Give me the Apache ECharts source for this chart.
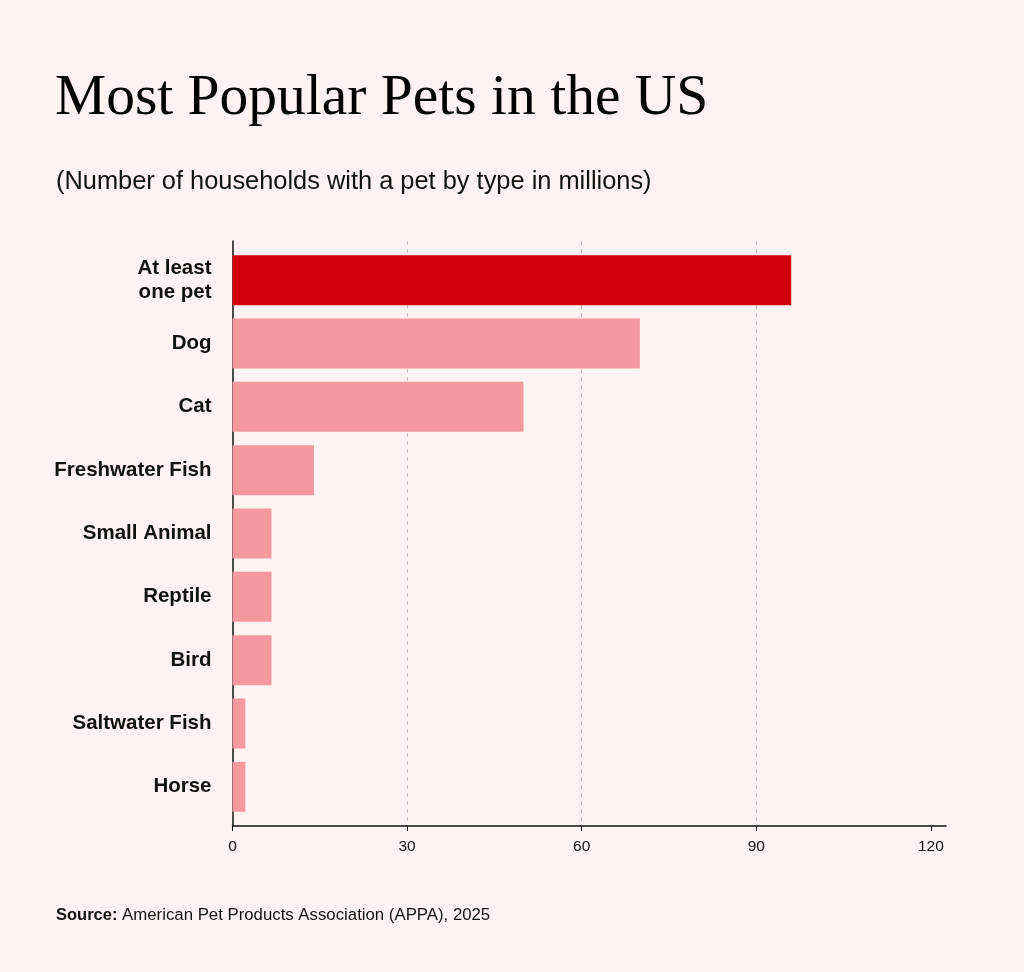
<!DOCTYPE html>
<html>
<head>
<meta charset="utf-8">
<script src="https://cdn.jsdelivr.net/npm/echarts@6/dist/echarts.min.js"></script>
<style>
  html, body { margin: 0; padding: 0; background: #fff2f2; }
  #chart { width: 1024px; height: 972px; }
</style>
</head>
<body>
<div id="chart"></div>
<script>
// pet types, top to bottom
const categories = ['At least\none pet', 'Dog', 'Cat', 'Freshwater Fish', 'Small Animal', 'Reptile', 'Bird', 'Saltwater Fish', 'Horse'];
// households in millions
const households = [96, 70, 50, 14, 6.7, 6.7, 6.7, 2.2, 2.2];
const xTicks = [0, 30, 60, 90, 120];
const highlightIndex = 0;

const axisEnd = 122.6;   // axis line runs a bit past the last tick
const redColor = '#d1000b';
const pinkColor = '#f5999e';
const inkColor = '#111111';

let chart = echarts.init(document.getElementById('chart'));

let barData = households.map(function (v, i) {
    return {
        value: v,
        itemStyle: { color: i === highlightIndex ? redColor : pinkColor }
    };
});

let option = {
    backgroundColor: '#fff2f2',
    animation: false,
    title: [
        {
            text: 'Most Popular Pets in the US',
            left: 50,
            top: 65,
            textStyle: {
                fontFamily: 'Liberation Serif',
                fontWeight: 'normal',
                fontSize: 57.5,
                color: '#000'
            }
        },
        {
            text: '(Number of households with a pet by type in millions)',
            left: 51,
            top: 164,
            textStyle: {
                fontFamily: 'Liberation Sans',
                fontWeight: 'normal',
                fontSize: 25.4,
                color: '#111'
            }
        },
        {
            text: '{b|Source:} American Pet Products Association (APPA), 2025',
            left: 51,
            top: 902,
            textStyle: {
                fontFamily: 'Liberation Sans',
                fontWeight: 'normal',
                fontSize: 16.8,
                color: '#111',
                rich: {
                    b: { fontFamily: 'Liberation Sans', fontWeight: 'bold', fontSize: 16.5, color: '#111' }
                }
            }
        }
    ],
    grid: [
        // axes frame + grid lines
        { left: 232.5, right: 78, top: 241, bottom: 146 },
        // bars
        { left: 232.5, right: 78, top: 248.5, bottom: 153.5 }
    ],
    xAxis: [
        {
            gridIndex: 0,
            type: 'value',
            min: 0,
            max: axisEnd,
            interval: 30,
            axisLine: { show: true, onZero: false, lineStyle: { color: inkColor, width: 1.5 } },
            axisTick: { show: true, length: 5, customValues: xTicks, lineStyle: { color: inkColor, width: 1 } },
            axisLabel: {
                customValues: xTicks,
                margin: 13,
                fontFamily: 'Liberation Sans',
                fontSize: 15.5,
                color: '#111'
            },
            splitLine: {
                show: true,
                showMinLine: false,
                showMaxLine: false,
                lineStyle: { color: '#c2c2c2', width: 1, type: [4, 4] }
            }
        },
        {
            gridIndex: 1,
            type: 'value',
            min: 0,
            max: axisEnd,
            show: false
        }
    ],
    yAxis: [
        {
            gridIndex: 0,
            type: 'value',
            min: 0,
            max: 1,
            axisLine: { show: true, onZero: false, lineStyle: { color: inkColor, width: 1.5 } },
            axisTick: { show: false },
            axisLabel: { show: false },
            splitLine: { show: false }
        },
        {
            gridIndex: 1,
            type: 'category',
            inverse: true,
            data: categories,
            axisLine: { show: false },
            axisTick: { show: false },
            axisLabel: {
                margin: 21,
                fontFamily: 'Liberation Sans',
                fontWeight: 'bold',
                fontSize: 20.5,
                lineHeight: 24,
                color: inkColor,
                align: 'right'
            }
        }
    ],
    series: [
        {
            type: 'bar',
            xAxisIndex: 1,
            yAxisIndex: 1,
            barWidth: 50,
            data: barData
        }
    ]
};

chart.setOption(option);
</script>
</body>
</html>
